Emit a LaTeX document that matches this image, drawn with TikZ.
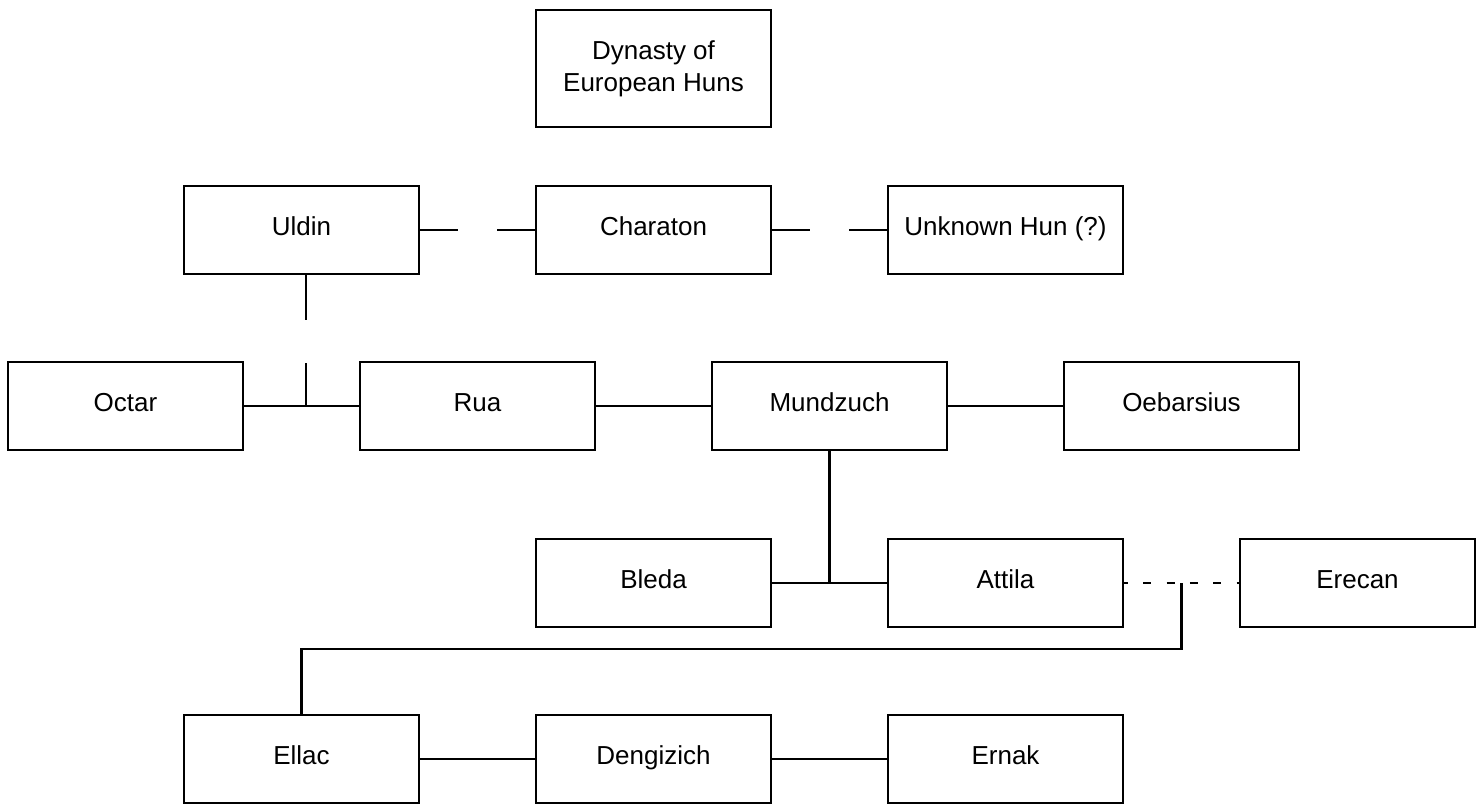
\documentclass[tikz,border=0pt]{standalone}
\usepackage{fontspec}
\setmainfont{Liberation Sans}
\usetikzlibrary{calc}
\begin{document}
\begin{tikzpicture}[x=1pt,y=-1pt,
  box/.style={draw=black, line width=2.7pt, minimum width=235pt, minimum height=88pt,
    inner sep=0pt, outer sep=0pt, font=\fontsize{26}{32}\selectfont, align=center},
  person/.style={box, text height=18.7pt, text depth=7pt},
  link/.style={line width=2.7pt, draw=black},
  gaplink/.style={link, dash pattern=on 39pt off 39pt},
  vgaplink/.style={link, dash pattern=on 46pt off 43pt},
  dashlink/.style={link, dash pattern=on 8pt off 15.3pt, dash phase=3pt}]
\useasboundingbox (0,0) rectangle (1484,804);
\node[box, minimum height=117pt] (dyn) at (653.5,68.5) {\raisebox{2pt}{Dynasty of}\\\raisebox{2pt}{European Huns}};
\node[person] (uldin) at (301.5,230) {Uldin};
\node[person] (charaton) at (653.5,230) {Charaton};
\node[person] (unknown) at (1005.5,230) {Unknown Hun (?)};
\node[person] (octar) at (125.5,406) {Octar};
\node[person] (rua) at (477.5,406) {Rua};
\node[person] (mundzuch) at (829.5,406) {Mundzuch};
\node[person] (oebarsius) at (1181.5,406) {Oebarsius};
\node[person] (bleda) at (653.5,583) {Bleda};
\node[person] (attila) at (1005.5,583) {Attila};
\node[person] (erecan) at (1357.5,583) {Erecan};
\node[person] (ellac) at (301.5,759) {Ellac};
\node[person] (dengizich) at (653.5,759) {Dengizich};
\node[person] (ernak) at (1005.5,759) {Ernak};
\draw[gaplink] (uldin.east) -- (charaton.west);
\draw[gaplink] (charaton.east) -- (unknown.west);
\coordinate (u1) at ([xshift=4.5pt]uldin.south);
\coordinate (j1) at (u1 |- octar.east);
\draw[vgaplink] (u1) -- (j1);
\draw[link] (octar.east) -- (rua.west);
\draw[link] (rua.east) -- (mundzuch.west);
\draw[link] (mundzuch.east) -- (oebarsius.west);
\coordinate (j2) at (mundzuch.south |- bleda.east);
\draw[link] (mundzuch.south) -- (j2);
\draw[link] (bleda.east) -- (attila.west);
\draw[dashlink] (attila.east) -- (erecan.west);
\coordinate (j3) at ($(attila.east)!0.5!(erecan.west)$);
\draw[link] (j3) -- ++(0,66) -| (ellac.north);
\draw[link] (ellac.east) -- (dengizich.west);
\draw[link] (dengizich.east) -- (ernak.west);
\end{tikzpicture}
\end{document}
